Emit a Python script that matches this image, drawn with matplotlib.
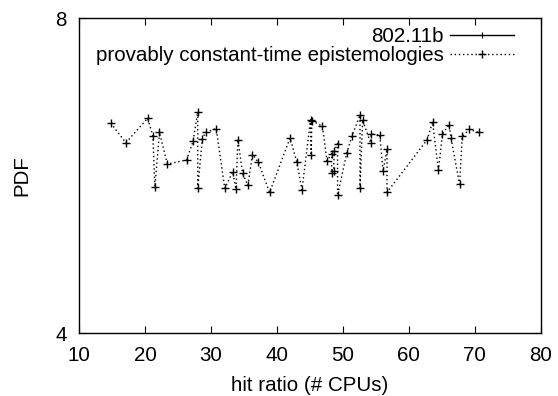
import numpy as np
import matplotlib.pyplot as plt

plt.rcParams['font.family'] = ['Liberation Sans', 'DejaVu Sans']

# values
cpus = [14.8, 17.1, 20.4, 21.2, 21.5, 22.2, 23.4, 26.3, 27.3, 28.0, 28.0, 28.7,
        29.2, 30.8, 32.1, 33.3, 33.8, 34.1, 34.8, 35.6, 36.3, 37.2, 38.9, 42.0,
        43.0, 43.8, 45.1, 45.2, 45.3, 46.9, 47.6, 48.3, 48.3, 48.6, 48.7, 49.2,
        49.2, 50.6, 51.4, 52.6, 52.6, 53.0, 54.2, 54.3, 55.6, 56.1, 56.7, 56.7,
        62.8, 63.6, 64.5, 65.1, 66.1, 66.4, 67.7, 68.1, 69.2, 70.6]
pdf = [6.67, 6.42, 6.73, 6.51, 5.86, 6.55, 6.15, 6.20, 6.44, 6.81, 5.84, 6.47,
       6.55, 6.60, 5.84, 6.05, 5.83, 6.46, 6.03, 5.88, 6.27, 6.17, 5.79, 6.48,
       6.18, 5.82, 6.71, 6.26, 6.70, 6.63, 6.19, 6.28, 6.04, 6.06, 6.31, 6.41,
       5.75, 6.29, 6.51, 6.77, 5.84, 6.71, 6.42, 6.53, 6.52, 6.06, 6.34, 5.79,
       6.46, 6.68, 6.07, 6.53, 6.65, 6.48, 5.89, 6.50, 6.59, 6.55]

# 802.11b has no points inside the visible range
wifi_x = []
wifi_y = []

fs = 14.8

fig = plt.figure(figsize=(5.58, 3.96), dpi=100)
ax = fig.add_axes([0.1416, 0.1583, 0.8274, 0.7955])

ax.plot(wifi_x, wifi_y, color='black', lw=1, ls='-', marker='+', ms=5,
        mew=0.8, label='802.11b')
ax.plot(cpus, pdf, color='black', lw=1, ls=(0, (1, 2)), marker='+', ms=6,
        mew=1.0, label='provably constant-time epistemologies')

ax.set_xlim(10, 80)
ax.set_ylim(4, 8)
ax.set_xticks(np.arange(10, 81, 10))
ax.set_yticks([4, 8])
ax.tick_params(direction='in', length=5, width=0.8, top=True, right=True,
               labelsize=fs)
ax.tick_params(axis='x', pad=9)
ax.tick_params(axis='y', pad=9)
for s in ax.spines.values():
    s.set_linewidth(1)

ax.set_xlabel('hit ratio (# CPUs)', fontsize=fs, labelpad=8)
ax.set_ylabel('PDF', fontsize=fs, labelpad=17)

ax.legend(loc='upper right', bbox_to_anchor=(0.950, 0.984), frameon=False,
          markerfirst=False, fontsize=fs, handlelength=3.1, handletextpad=0.3,
          labelspacing=0.0, borderaxespad=0.0, borderpad=0.2)

fig.savefig('out.png', dpi=100)
